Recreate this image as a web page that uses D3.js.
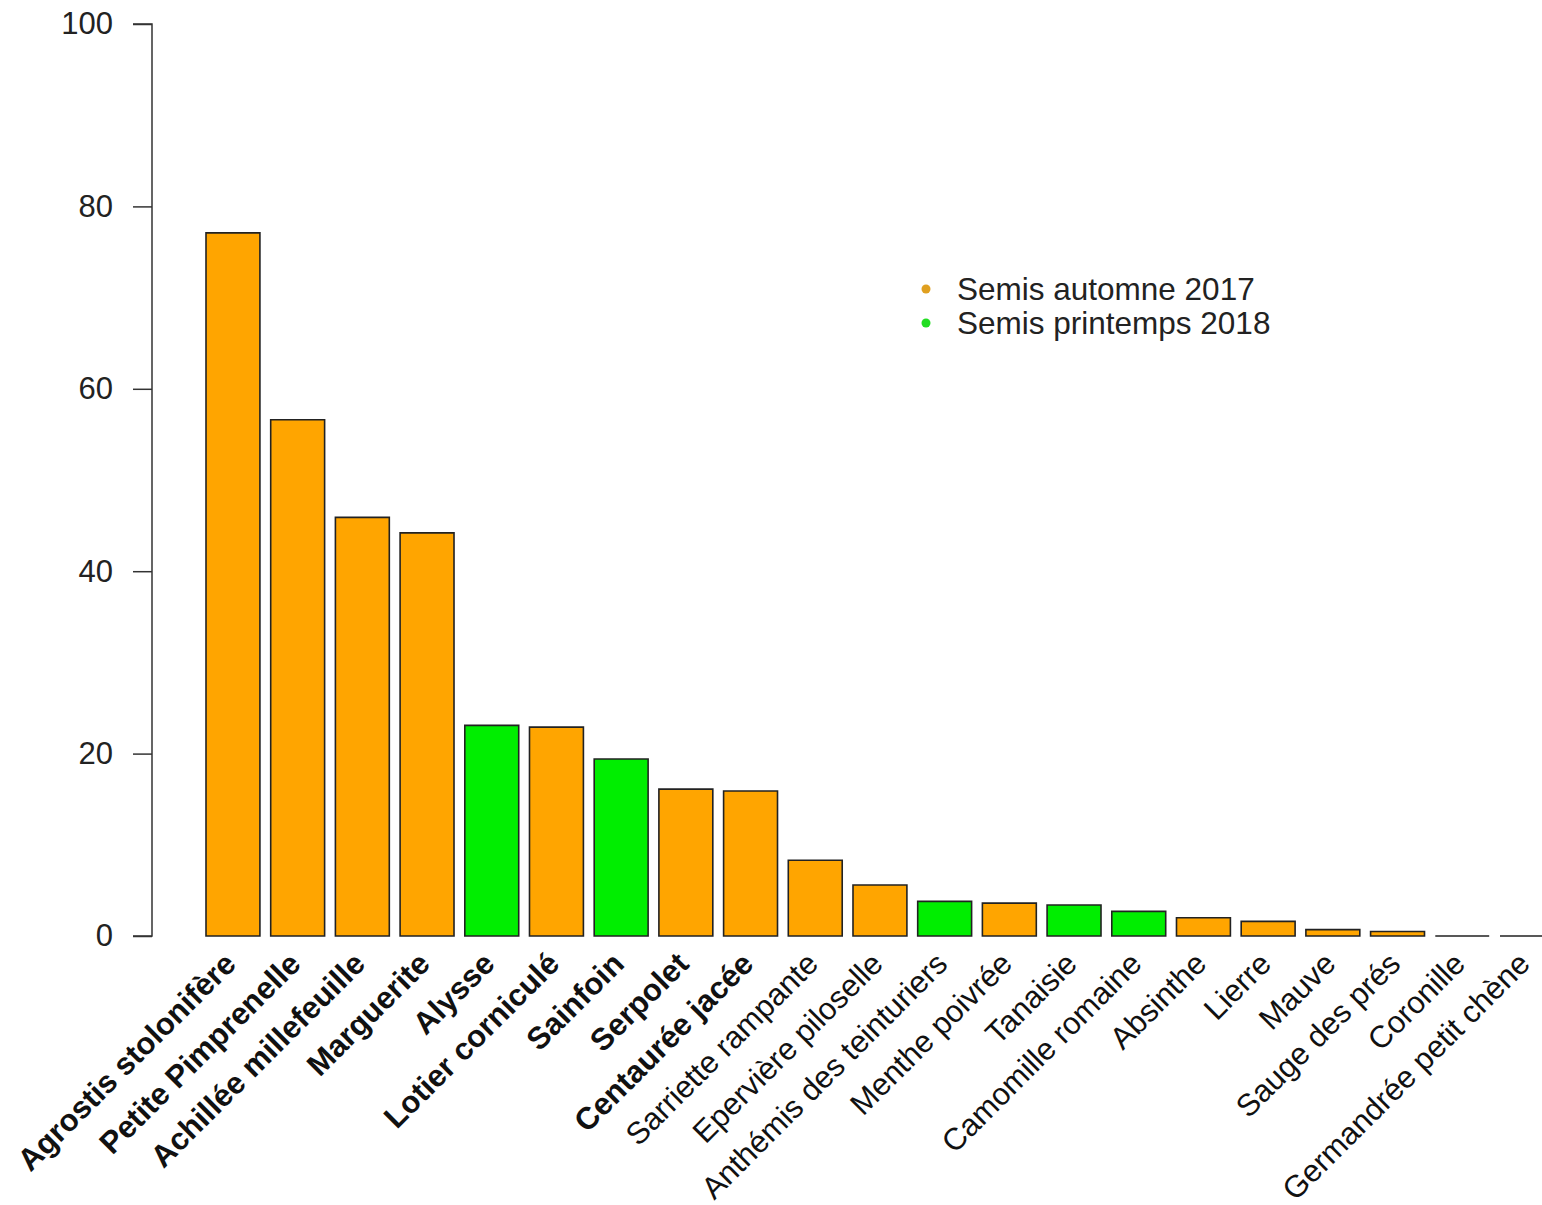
<!DOCTYPE html>
<html>
<head>
<meta charset="utf-8">
<script src="https://cdn.jsdelivr.net/npm/d3@7"></script>
<style>
  html, body { margin: 0; padding: 0; background: #fff; }
  svg { display: block; font-family: "Liberation Sans", Arial, sans-serif; }
</style>
</head>
<body>
<svg id="chart" width="1542" height="1205"></svg>
<script>
const categories = [
  "Agrostis stolonifère", "Petite Pimprenelle", "Achillée millefeuille", "Marguerite",
  "Alysse", "Lotier corniculé", "Sainfoin", "Serpolet", "Centaurée jacée",
  "Sarriette rampante", "Epervière piloselle", "Anthémis des teinturiers", "Menthe poivrée",
  "Tanaisie", "Camomille romaine", "Absinthe", "Lierre", "Mauve", "Sauge des prés",
  "Coronille", "Germandrée petit chène"
];
const values = [77.1, 56.6, 45.9, 44.2, 23.1, 22.9, 19.4, 16.1, 15.9, 8.3, 5.6, 3.8, 3.6, 3.4, 2.7, 2.0, 1.6, 0.7, 0.5, 0, 0];
const seasons = ["A","A","A","A","P","A","P","A","A","A","A","P","A","P","P","A","A","A","A","A","A"];
const boldLabels = [true,true,true,true,true,true,true,true,true,false,false,false,false,false,false,false,false,false,false,false,false];
const yTicks = [0, 20, 40, 60, 80, 100];
const legendLabels = ["Semis automne 2017", "Semis printemps 2018"];
const legendKeys = ["A", "P"];

const colors = { A: "#FFA500", P: "#00EE00" };
const legendDot = { A: "#E0A020", P: "#22DD22" };

const svg = d3.select("#chart");
svg.append("rect").attr("width", 1542).attr("height", 1205).attr("fill", "#fff");

const y = d3.scaleLinear().domain([0, 100]).range([936, 24]);
const x = d3.scaleBand().domain(categories).range([206, 1553.9]).paddingInner(1/6).paddingOuter(0);

const data = categories.map((c, i) => ({ c, v: values[i], s: seasons[i], b: boldLabels[i] }));

// bars (paths so zero-height bars still show their outline)
svg.append("g").selectAll("path").data(data).join("path")
  .attr("d", d => {
    const x0 = x(d.c), x1 = x0 + x.bandwidth(), y0 = y(0), y1 = y(d.v);
    return `M${x0},${y0}V${y1}H${x1}V${y0}Z`;
  })
  .attr("fill", d => colors[d.s])
  .attr("stroke", "#222")
  .attr("stroke-width", 1.6);

// y axis
const yAxis = d3.axisLeft(y).tickValues(yTicks).tickSize(19).tickPadding(20).tickFormat(d3.format("d"));
const ga = svg.append("g").attr("transform", "translate(152,0)").call(yAxis);
ga.select(".domain").attr("stroke", "#333").attr("stroke-width", 1.5).attr("d", "M-19,24H0V936H-19");
ga.selectAll(".tick line").attr("stroke", "#333").attr("stroke-width", 1.5);
ga.selectAll(".tick text").attr("font-size", 31).attr("fill", "#222")
  .attr("font-family", "'Liberation Sans', Arial, sans-serif");

// category labels
svg.append("g").selectAll("text").data(data).join("text")
  .attr("transform", d => `translate(${x(d.c) + x.bandwidth() / 2 - 3},${958}) rotate(-45)`)
  .attr("text-anchor", "end")
  .attr("dy", "0.35em")
  .attr("font-size", 31)
  .attr("font-weight", d => d.b ? "bold" : "normal")
  .attr("fill", "#111")
  .text(d => d.c);

// legend
const lg = svg.append("g");
legendKeys.forEach((k, i) => {
  const cy = 289 + i * 34;
  lg.append("circle").attr("cx", 926).attr("cy", cy).attr("r", 4.5).attr("fill", legendDot[k]);
  lg.append("text").attr("x", 957).attr("y", cy).attr("dy", "0.35em")
    .attr("font-size", 31.5).attr("fill", "#222").text(legendLabels[i]);
});
</script>
</body>
</html>
